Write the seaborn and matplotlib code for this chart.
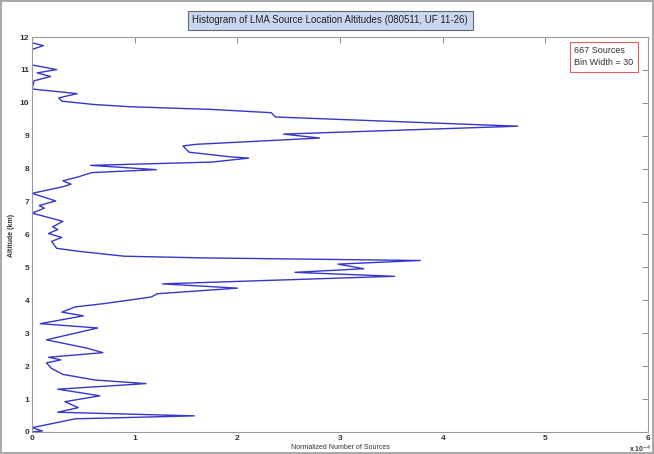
import pandas as pd
import seaborn as sns
import matplotlib.pyplot as plt

# altitude (km) and normalized source count (units of 1e-4), read top to bottom
altitude_km = [12.0, 11.82, 11.74, 11.62, 11.15, 11.01, 10.91, 10.8, 10.67, 10.42,
               10.28, 10.15, 10.05, 9.95, 9.88, 9.8, 9.7, 9.57, 9.29, 9.05,
               8.93, 8.74, 8.69, 8.5, 8.36, 8.32, 8.2, 8.1, 7.97, 7.88,
               7.75, 7.63, 7.53, 7.45, 7.25, 7.02, 6.88, 6.8, 6.65, 6.4,
               6.23, 6.15, 6.03, 5.91, 5.79, 5.66, 5.58, 5.49, 5.34, 5.29,
               5.21, 5.1, 4.96, 4.85, 4.73, 4.5, 4.37, 4.2, 4.1, 3.9,
               3.8, 3.64, 3.53, 3.29, 3.16, 2.8, 2.55, 2.41, 2.27, 2.19,
               2.1, 1.93, 1.75, 1.58, 1.47, 1.3, 1.1, 0.92, 0.74, 0.6,
               0.49, 0.4, 0.13, 0.03, 0.0]
norm_sources = [0.0, 0.0, 0.11, 0.0, 0.0, 0.24, 0.05, 0.18, 0.02, 0.0,
                0.44, 0.26, 0.29, 0.6, 0.96, 1.75, 2.33, 2.37, 4.73, 2.45,
                2.8, 1.6, 1.47, 1.53, 1.93, 2.11, 1.75, 0.57, 1.21, 0.58,
                0.45, 0.3, 0.38, 0.3, 0.0, 0.23, 0.07, 0.12, 0.0, 0.3,
                0.2, 0.25, 0.16, 0.29, 0.19, 0.22, 0.24, 0.45, 0.9, 1.64,
                3.78, 2.98, 3.23, 2.56, 3.53, 1.27, 2.0, 1.22, 1.16, 0.7,
                0.42, 0.29, 0.5, 0.08, 0.64, 0.14, 0.53, 0.69, 0.16, 0.28,
                0.14, 0.19, 0.3, 0.61, 1.11, 0.25, 0.66, 0.32, 0.45, 0.25,
                1.58, 0.42, 0.0, 0.1, 0.0]

df = pd.DataFrame({'alt': altitude_km, 'n': norm_sources})

sns.set_style('white')
plt.rcParams['font.family'] = ['Liberation Sans', 'DejaVu Sans']

fig = plt.figure(figsize=(6.54, 4.54), dpi=100)
fig.patch.set_edgecolor('#aaaaaa')
fig.patch.set_linewidth(1.5)
ax = fig.add_axes([0.049, 0.0485, 0.942, 0.870])

sns.lineplot(data=df, x='n', y='alt', sort=False, estimator=None,
             color='#3636c8', lw=1.0, ax=ax)

ax.set_xlim(0, 6)
ax.set_ylim(0, 12)
ax.set_xticks(range(0, 7))
ax.set_yticks(range(0, 13))
ax.tick_params(direction='in', length=4, width=0.6, color='#777777',
               top=True, right=True, labelsize=6, pad=2)
for lab in ax.get_xticklabels() + ax.get_yticklabels():
    lab.set_fontweight('bold')
    lab.set_color('#333333')
for s in ax.spines.values():
    s.set_color('#999999')
    s.set_linewidth(0.8)

ax.set_xlabel('')
ax.set_ylabel('')
fig.text(0.52, 0.012, 'Normalized Number of Sources', ha='center', fontsize=5, color='#333333')
fig.text(0.018, 0.482, 'Altitude (km)', rotation=90, va='center', ha='center',
         fontsize=5, fontweight='bold', color='#333333')
fig.text(0.962, 0.004, 'x 10$^{-4}$', ha='left', fontsize=5, fontweight='bold', color='#333333')

fig.text(0.505, 0.955, 'Histogram of LMA Source Location Altitudes (080511, UF 11-26)',
         ha='center', va='center', fontsize=7, color='#222222',
         bbox=dict(boxstyle='square,pad=0.45', fc='#c9d8f0', ec='#666666', lw=0.8))
fig.text(0.878, 0.875, '667 Sources\nBin Width = 30', ha='left', va='center',
         fontsize=6.5, color='#333333', linespacing=1.4,
         bbox=dict(boxstyle='square,pad=0.5', fc='white', ec='#e06060', lw=0.8))

plt.savefig('out.png', dpi=100)
plt.close()
